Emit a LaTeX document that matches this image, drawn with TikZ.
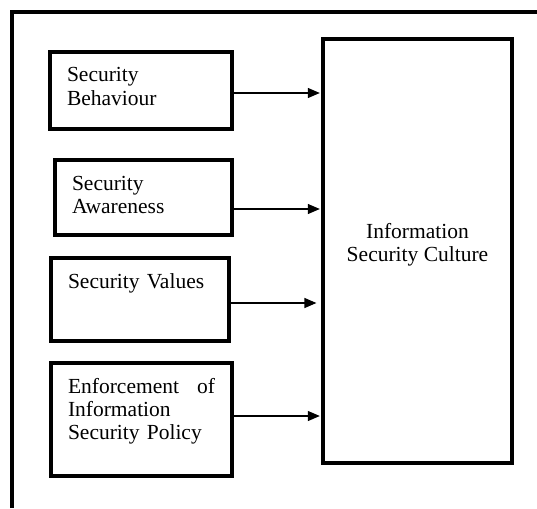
\documentclass[tikz,border=0pt]{standalone}
\usepackage{fontspec}
\setmainfont{Liberation Serif}
\usetikzlibrary{arrows.meta}

\begin{document}
\begin{tikzpicture}[x=1pt,y=-1pt,font=\fontsize{21.5}{23}\selectfont,
    factor/.style={draw,line width=3.2pt,inner xsep=17pt,inner ysep=4pt,align=left,text height=26pt},
    link/.style={-{Triangle[length=12pt,width=10pt]},line width=1.2pt,shorten >=1.6pt}]
    \useasboundingbox (0,0) rectangle (537,508);
    \draw[line width=3.5pt] (12,508) -- (12,12) -- (537,12);

    \node[factor,text width=148pt,text depth=43pt] (behaviour) at (141,90.5) {Security\\Behaviour};
    \node[factor,text width=143pt,text depth=41pt] (awareness) at (143.5,197.5) {Security\\Awareness};
    \node[factor,text width=144pt,text depth=49pt] (values) at (140,299.5) {Security Values};
    \node[factor,text width=147pt,text depth=79pt] (policy) at (141.5,419.5) {Enforcement \hfill of\\Information\\Security Policy};
    \node[draw,line width=3.2pt,minimum width=189pt,minimum height=424pt,align=center,text depth=18pt] (culture) at (417.5,251) {Information\\Security Culture};

    \draw[link] ([yshift=-2.5pt]behaviour.east) -- ([yshift=-2.5pt]behaviour.east -| culture.west);
    \draw[link] ([yshift=-11.5pt]awareness.east) -- ([yshift=-11.5pt]awareness.east -| culture.west);
    \draw[link,shorten >=5pt] ([yshift=-3.5pt]values.east) -- ([yshift=-3.5pt]values.east -| culture.west);
    \draw[link] ([yshift=3.5pt]policy.east) -- ([yshift=3.5pt]policy.east -| culture.west);
\end{tikzpicture}
\end{document}
